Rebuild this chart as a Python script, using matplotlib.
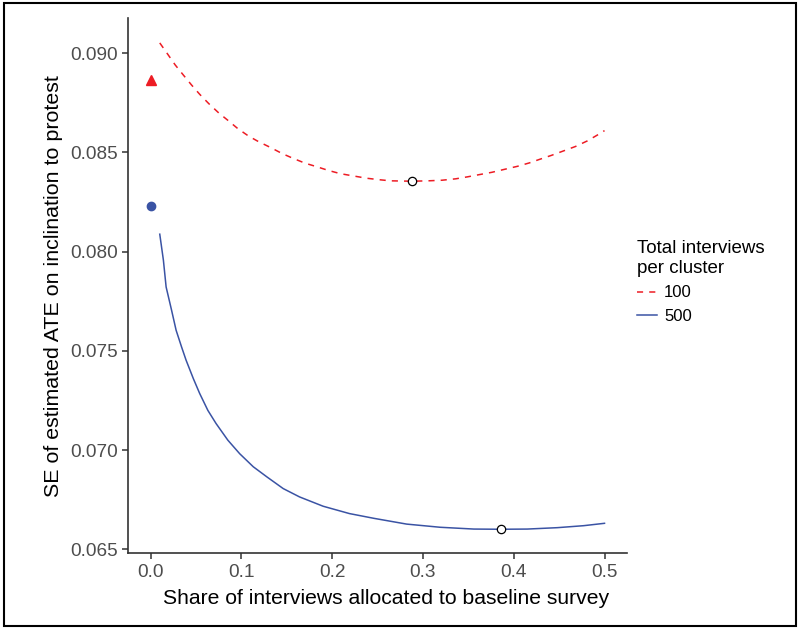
import matplotlib.pyplot as plt
from matplotlib.patches import Rectangle

plt.rcParams['font.family'] = ['Liberation Sans', 'DejaVu Sans']

# curve for 100 interviews per cluster
share_100 = [0.010, 0.018, 0.027, 0.036, 0.045, 0.054, 0.064, 0.075, 0.085, 0.096,
             0.108, 0.119, 0.132, 0.145, 0.157, 0.170, 0.183, 0.196, 0.209, 0.224,
             0.238, 0.253, 0.264, 0.288, 0.306, 0.321, 0.336, 0.349, 0.363, 0.376,
             0.389, 0.404, 0.417, 0.429, 0.442, 0.455, 0.468, 0.481, 0.496, 0.500]
se_100 = [0.09052, 0.09000, 0.08941, 0.08890, 0.08840, 0.08793, 0.08746, 0.08699, 0.08662, 0.08620,
          0.08582, 0.08554, 0.08525, 0.08494, 0.08470, 0.08446, 0.08428, 0.08409, 0.08393, 0.08381,
          0.08370, 0.08362, 0.08357, 0.08355, 0.08357, 0.08360, 0.08367, 0.08377, 0.08389, 0.08400,
          0.08414, 0.08430, 0.08447, 0.08466, 0.08486, 0.08508, 0.08530, 0.08558, 0.08598, 0.08610]

# curve for 500 interviews per cluster
share_500 = [0.010, 0.014, 0.017, 0.023, 0.028, 0.034, 0.039, 0.047, 0.054, 0.063,
             0.072, 0.085, 0.098, 0.113, 0.128, 0.146, 0.164, 0.190, 0.219, 0.246,
             0.282, 0.319, 0.356, 0.386, 0.415, 0.448, 0.477, 0.500]
se_500 = [0.08088, 0.07957, 0.07822, 0.07705, 0.07604, 0.07520, 0.07453, 0.07360, 0.07285, 0.07200,
          0.07134, 0.07050, 0.06982, 0.06916, 0.06865, 0.06806, 0.06764, 0.06717, 0.06680, 0.06656,
          0.06627, 0.06611, 0.06602, 0.06601, 0.06602, 0.06609, 0.06619, 0.06631]

# minima and no-baseline points
min_100 = (0.288, 0.08355)
min_500 = (0.386, 0.06601)
zero_100 = 0.08865
zero_500 = 0.08228

red = '#ED1C24'
blue = '#3A53A4'

fig = plt.figure(figsize=(8, 6.29), dpi=100)
ax = fig.add_axes([0.16, 0.1204, 0.624, 0.8505])

ax.plot(share_100, se_100, color=red, linestyle=(0, (4, 4)), linewidth=1.1, label='100')
ax.plot(share_500, se_500, color=blue, linestyle='-', linewidth=1.1, label='500')

ax.plot(0, zero_100, marker='^', color=red, markersize=7, linestyle='none')
ax.plot(0, zero_500, marker='o', color=blue, markersize=6, linestyle='none')

for p in (min_100, min_500):
    ax.plot(p[0], p[1], marker='o', markerfacecolor='white', markeredgecolor='black',
            markersize=6, markeredgewidth=0.9, linestyle='none')

ax.set_xlim(-0.025, 0.525)
ax.set_ylim(0.0648, 0.09176)
ax.set_xticks([0.0, 0.1, 0.2, 0.3, 0.4, 0.5])
ax.set_xticklabels(['0.0', '0.1', '0.2', '0.3', '0.4', '0.5'])
ax.set_yticks([0.065, 0.070, 0.075, 0.080, 0.085, 0.090])
ax.set_yticklabels(['0.065', '0.070', '0.075', '0.080', '0.085', '0.090'])

for s in ['top', 'right']:
    ax.spines[s].set_visible(False)
for s in ['left', 'bottom']:
    ax.spines[s].set_color('#333333')
    ax.spines[s].set_linewidth(1.2)
ax.tick_params(colors='#333333', labelcolor='#4D4D4D', labelsize=13.7, length=4, width=1.1)

ax.set_xlabel('Share of interviews allocated to baseline survey', fontsize=15.2, labelpad=6)
ax.xaxis.label.set_x(0.517)
ax.set_ylabel('SE of estimated ATE on inclination to protest', fontsize=15.4, labelpad=5)

leg = ax.legend(title='Total interviews\nper cluster', loc='center left',
                bbox_to_anchor=(0.777, 0.5516), bbox_transform=fig.transFigure,
                frameon=False, fontsize=12, title_fontsize=13.5, handlelength=1.2,
                handletextpad=0.45, alignment='left')

fig.patches.append(Rectangle((0.005, 0.005), 0.99, 0.99, transform=fig.transFigure,
                             fill=False, edgecolor='black', linewidth=1.5))

fig.savefig('out.png', dpi=100)
